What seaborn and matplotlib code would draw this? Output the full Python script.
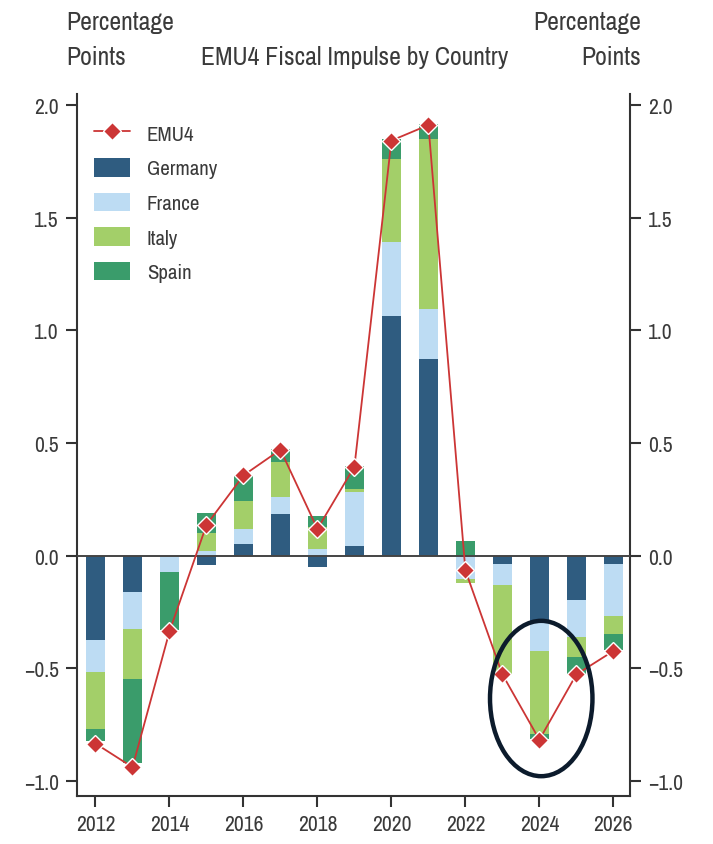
import matplotlib
matplotlib.use("Agg")
import matplotlib.pyplot as plt
from matplotlib.patches import Ellipse
import numpy as np
import pandas as pd
import seaborn as sns

# Fiscal impulse contributions, percentage points
years = list(range(2012, 2027))
germany = [-0.374, -0.161, 0.0, -0.044, 0.050, 0.186, -0.053, 0.043, 1.065, 0.873, 0.0, -0.036, -0.292, -0.198, -0.036]
france = [-0.145, -0.164, -0.075, 0.022, 0.068, 0.075, 0.031, 0.241, 0.328, 0.222, -0.102, -0.096, -0.130, -0.164, -0.231]
italy = [-0.250, -0.222, 0.0, 0.077, 0.126, 0.155, 0.097, 0.013, 0.370, 0.755, -0.018, -0.396, -0.370, -0.089, -0.080]
spain = [-0.056, -0.374, -0.254, 0.089, 0.114, 0.059, 0.049, 0.101, 0.086, 0.065, 0.063, 0.0, -0.025, -0.077, -0.071]
emu4 = [-0.835, -0.940, -0.337, 0.136, 0.356, 0.470, 0.118, 0.395, 1.843, 1.912, -0.066, -0.528, -0.818, -0.528, -0.424]

countries = ["Germany", "France", "Italy", "Spain"]
colors = {"Germany": "#2f5c80", "France": "#bddcf3", "Italy": "#a3cf69", "Spain": "#3a9c6b"}
line_color = "#cc3535"
text_color = "#3a3a3a"

sns.set_theme(style="ticks")
plt.rcParams["font.family"] = ["Archivo Narrow", "Liberation Sans", "DejaVu Sans"]

df = pd.DataFrame({"year": years, "Germany": germany, "France": france,
                   "Italy": italy, "Spain": spain, "EMU4": emu4})

fig = plt.figure(figsize=(7.13, 8.45), dpi=100)
ax = fig.add_axes([0.108, 0.0568, 0.7756, 0.8308])

# stacked bars, positives and negatives stacked separately
pos_base = np.zeros(len(years))
neg_base = np.zeros(len(years))
for c in countries:
    vals = df[c].to_numpy()
    bottoms = np.where(vals >= 0, pos_base, neg_base)
    ax.bar(df["year"], vals, bottom=bottoms, width=0.5, color=colors[c],
           label=c, linewidth=0, zorder=2)
    pos_base += np.where(vals >= 0, vals, 0)
    neg_base += np.where(vals < 0, vals, 0)

ax.axhline(0, color="#444444", lw=1.4, zorder=3)

sns.lineplot(data=df, x="year", y="EMU4", ax=ax, color=line_color, lw=1.3,
             marker="D", markersize=9, markeredgecolor="white",
             markeredgewidth=1.0, label="EMU4", zorder=4)

ax.add_patch(Ellipse((2024.05, -0.635), 2.77, 0.69, fill=False,
                     edgecolor="#0c1b2c", lw=3.2, zorder=5))

ax.set_xlim(2011.5, 2026.45)
ax.set_ylim(-1.068, 2.05)
ax.set_xticks(range(2012, 2027, 2))
ax.set_yticks([-1.0, -0.5, 0.0, 0.5, 1.0, 1.5, 2.0])
ax.set_yticklabels(["\u22121.0", "\u22120.5", "0.0", "0.5", "1.0", "1.5", "2.0"])
ax.set_xlabel("")
ax.set_ylabel("")

for side in ["left", "right", "bottom"]:
    ax.spines[side].set_color("#333333")
    ax.spines[side].set_linewidth(1.5)
ax.spines["top"].set_visible(False)
ax.tick_params(axis="both", direction="out", length=8, width=1.5,
               color="#333333", labelsize=15.5, labelcolor=text_color, pad=5)
ax.tick_params(axis="y", left=True, right=True, labelleft=True, labelright=True)

handles, labels = ax.get_legend_handles_labels()
order = [labels.index(n) for n in ["EMU4"] + countries]
leg = ax.legend([handles[i] for i in order], [labels[i] for i in order],
                loc="upper left", bbox_to_anchor=(-0.004, 0.985), frameon=False,
                fontsize=15, labelcolor=text_color, handlelength=1.75,
                handleheight=1.0, labelspacing=0.68, handletextpad=0.8)

# unit labels on both sides and the chart title
for xpos, ha in [(66 / 713, "left"), (641 / 713, "right")]:
    fig.text(xpos, 1 - 30 / 845, "Percentage", ha=ha, va="baseline",
             fontsize=18.5, color=text_color)
    fig.text(xpos, 1 - 65 / 845, "Points", ha=ha, va="baseline",
             fontsize=18.5, color=text_color)
fig.text(355 / 713, 1 - 65 / 845, "EMU4 Fiscal Impulse by Country", ha="center",
         va="baseline", fontsize=18.5, color=text_color)

fig.savefig("out.png", dpi=100, facecolor="white")
